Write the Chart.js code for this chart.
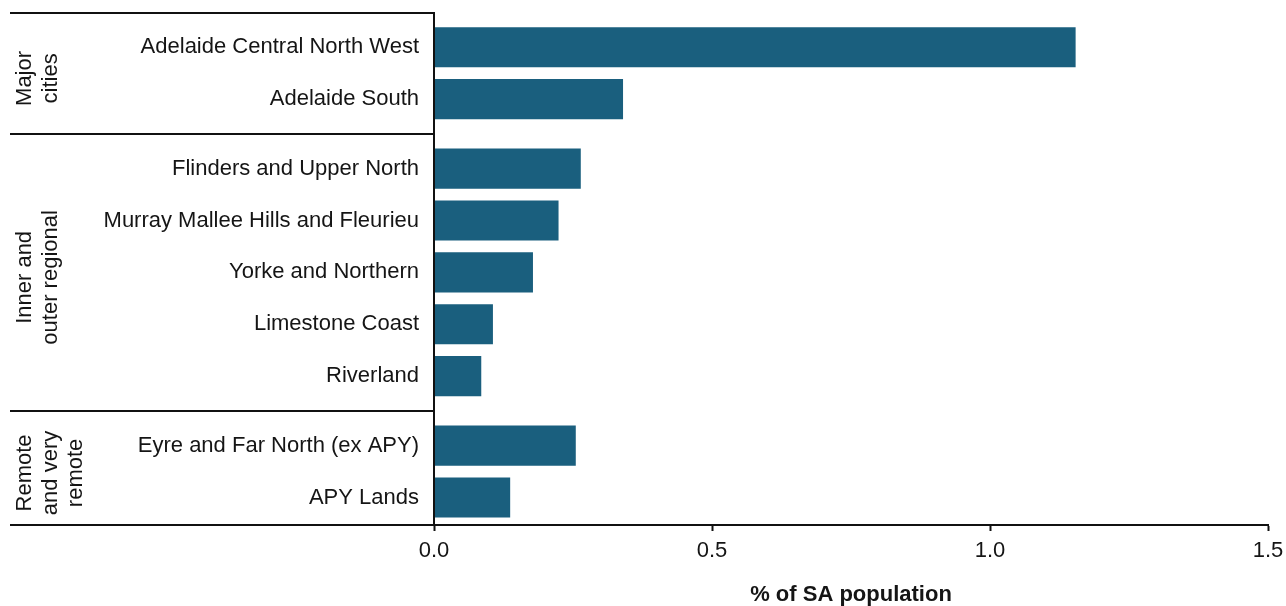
<!DOCTYPE html>
<html>
<head>
<meta charset="utf-8">
<script src="https://cdn.jsdelivr.net/npm/chart.js@4/dist/chart.umd.min.js"></script>
<style>
  body { margin: 0; background: #fff; }
  #wrap { width: 1286px; height: 606px; position: relative; }
</style>
</head>
<body>
<div id="wrap"><canvas id="sa_population_chart"></canvas></div>
<script>
// regions, in the order they appear top to bottom
const regions = [
    'Adelaide Central North West', 'Adelaide South',
    'Flinders and Upper North', 'Murray Mallee Hills and Fleurieu', 'Yorke and Northern', 'Limestone Coast', 'Riverland',
    'Eyre and Far North (ex APY)', 'APY Lands'
];
// % of SA population
const shares = [1.154, 0.340, 0.264, 0.224, 0.178, 0.106, 0.085, 0.255, 0.137];
// remoteness groups, with how many regions fall in each
const groupNames = [['Major', 'cities'], ['Inner and', 'outer regional'], ['Remote', 'and very', 'remote']];
const groupSizes = [2, 5, 2];
const xTicks = [0, 0.5, 1.0, 1.5];

const GROUP_GAP = 0.34;   // extra space between groups, in rows
const barColour = '#1a5f7e';
const textColour = '#151515';

Chart.defaults.font.family = "'Liberation Sans', Arial, sans-serif";
Chart.defaults.font.size = 22;
Chart.defaults.color = textColour;

// row position of every region on the y axis (group gaps added in)
const rowPos = [];
groupSizes.forEach(function (n, g) {
    for (var k = 0; k < n; k++) {
        rowPos.push(rowPos.length + g * GROUP_GAP);
    }
});

const points = shares.map(function (v, i) { return { x: v, y: rowPos[i] }; });

// group labels on the left + the separator rules
const groupPlugin = {
    id: 'groups',
    afterDraw(chart) {
        const ctx = chart.ctx;
        const y = chart.scales.y;
        const area = chart.chartArea;
        const lineStart = 10;

        ctx.save();
        ctx.strokeStyle = '#111';
        ctx.lineWidth = 2;

        // rule positions: top, between groups, bottom
        const rules = [area.top];
        var idx = 0;
        groupSizes.forEach(function (n, g) {
            if (g > 0) {
                const mid = (rowPos[idx - 1] + rowPos[idx]) / 2;
                rules.push(y.getPixelForValue(mid));
            }
            idx += n;
        });
        rules.push(area.bottom);
        rules.forEach(function (py) {
            ctx.beginPath();
            ctx.moveTo(lineStart, Math.round(py));
            ctx.lineTo(area.left, Math.round(py));
            ctx.stroke();
        });

        // rotated group names
        ctx.font = "22px 'Liberation Sans', Arial, sans-serif";
        ctx.fillStyle = textColour;
        ctx.textAlign = 'center';
        ctx.textBaseline = 'middle';
        groupSizes.forEach(function (n, g) {
            const cy = (rules[g] + rules[g + 1]) / 2 + 5;
            groupNames[g].forEach(function (line, j) {
                ctx.save();
                ctx.translate(25 + j * 25.5, cy);
                ctx.rotate(-Math.PI / 2);
                ctx.fillText(line, 0, 0);
                ctx.restore();
            });
        });
        ctx.restore();
    }
};

const canvas = document.getElementById('sa_population_chart');

new Chart(canvas, {
    type: 'bar',
    data: {
        datasets: [{
            label: '% of SA population',
            data: points,
            backgroundColor: barColour,
            borderWidth: 0,
            categoryPercentage: 1,
            barPercentage: 0.772
        }]
    },
    options: {
        indexAxis: 'y',
        responsive: true,
        maintainAspectRatio: false,
        animation: false,
        layout: { padding: { left: 0, top: 13, right: 18, bottom: 0 } },
        plugins: {
            legend: { display: false },
            tooltip: { enabled: false }
        },
        scales: {
            x: {
                type: 'linear',
                min: 0,
                max: 1.5,
                afterBuildTicks: function (scale) {
                    scale.ticks = xTicks.map(function (v) { return { value: v }; });
                },
                afterFit: function (scale) {
                    scale.height = 81;
                    scale.paddingLeft = 0;
                    scale.paddingRight = 0;
                },
                ticks: {
                    padding: 7,
                    color: textColour,
                    callback: function (v) { return Number(v).toFixed(1); }
                },
                grid: {
                    drawOnChartArea: false,
                    drawTicks: true,
                    tickLength: 6,
                    tickWidth: 2,
                    tickColor: '#111'
                },
                border: { color: '#111', width: 2, z: 1 },
                title: {
                    display: true,
                    text: '% of SA population',
                    color: textColour,
                    font: { size: 22, weight: 'bold', lineHeight: 1 },
                    padding: { top: 0, bottom: 0 }
                }
            },
            y: {
                type: 'linear',
                reverse: true,
                offset: false,
                min: -0.66,
                max: rowPos[rowPos.length - 1] + 0.53,
                afterBuildTicks: function (scale) {
                    scale.ticks = rowPos.map(function (v) { return { value: v }; });
                },
                afterFit: function (scale) {
                    scale.width = 434;
                    scale.paddingTop = 0;
                    scale.paddingBottom = 0;
                },
                ticks: {
                    autoSkip: false,
                    padding: 15,
                    color: textColour,
                    callback: function (v, i) { return regions[i]; }
                },
                grid: { drawOnChartArea: false, drawTicks: false },
                border: { color: '#111', width: 2, z: 1 }
            }
        }
    },
    plugins: [groupPlugin]
});
</script>
</body>
</html>
